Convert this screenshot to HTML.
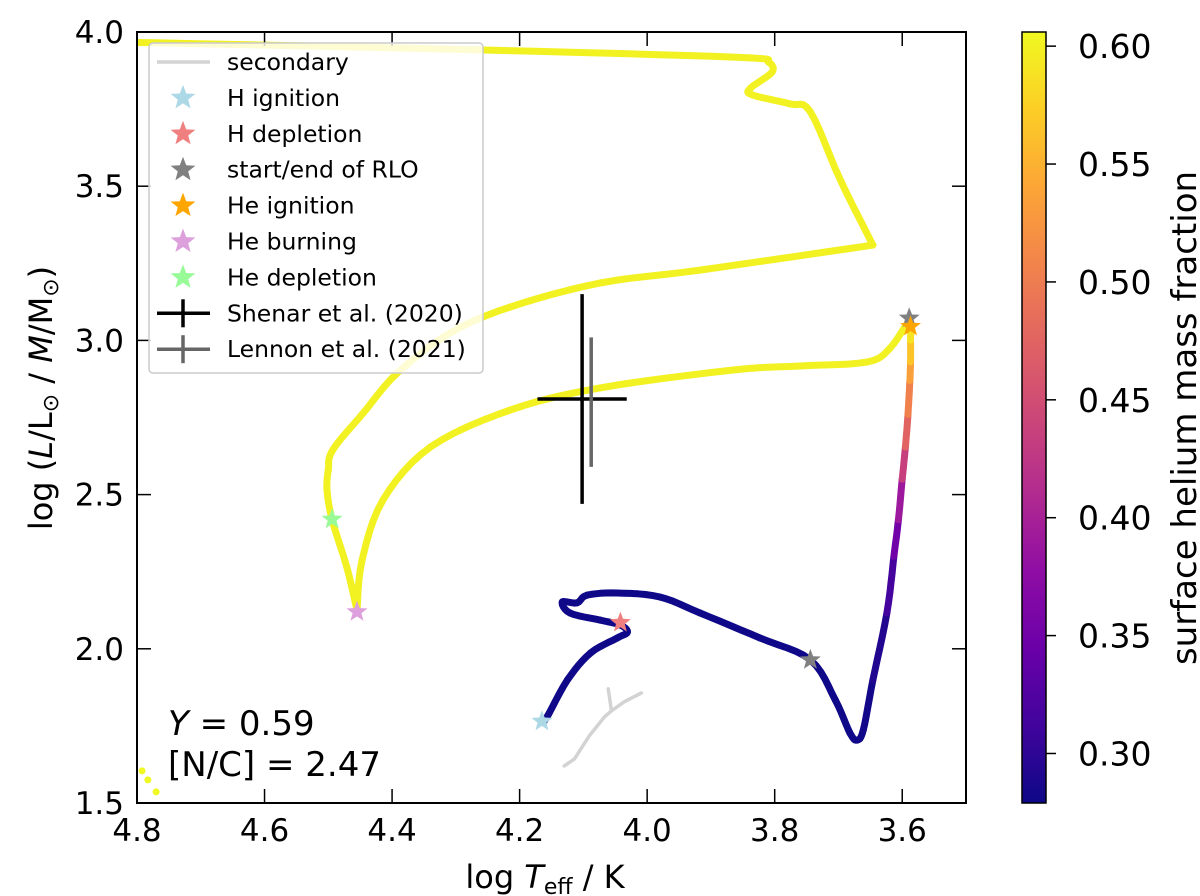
<!DOCTYPE html>
<html><head><meta charset="utf-8"><style>
body{margin:0;background:#fff;}
svg{display:block;font-family:"DejaVu Sans","Liberation Sans",sans-serif;}
</style></head><body>
<svg id="chart" width="1200" height="896" viewBox="0 0 1200 896">
<defs>
<linearGradient id="cbgrad" x1="0" y1="1" x2="0" y2="0">
<stop offset="0" stop-color="#0d0887"/><stop offset="0.1" stop-color="#41049d"/><stop offset="0.2" stop-color="#6a00a8"/><stop offset="0.3" stop-color="#8f0da4"/><stop offset="0.4" stop-color="#b12a90"/><stop offset="0.5" stop-color="#cc4778"/><stop offset="0.6" stop-color="#e16462"/><stop offset="0.7" stop-color="#f2844b"/><stop offset="0.8" stop-color="#fca636"/><stop offset="0.9" stop-color="#fcce25"/><stop offset="1" stop-color="#f0f921"/>
</linearGradient>
<clipPath id="plotclip"><rect x="137" y="32" width="829" height="771"/></clipPath>
</defs>
<g id="plot" clip-path="url(#plotclip)"></g>
<rect x="137" y="32" width="829" height="771" fill="none" stroke="#000" stroke-width="2"/>
<g id="axes"></g>
<g id="legend"></g>
<text x="168" y="735" font-size="34"><tspan font-style="italic">Y</tspan> = 0.59</text>
<text x="168" y="776" font-size="34">[N/C] = 2.47</text>
<text x="545" y="888" font-size="32" text-anchor="middle">log <tspan font-style="italic">T</tspan><tspan font-size="22" dy="6">eff</tspan><tspan dy="-6"> / K</tspan></text>
<text transform="translate(52,398) rotate(-90)" font-size="32" text-anchor="middle">log (<tspan font-style="italic">L</tspan>/L<tspan font-size="22" dy="6">⊙</tspan><tspan dy="-6"> / </tspan><tspan font-style="italic">M</tspan>/M<tspan font-size="22" dy="6">⊙</tspan><tspan dy="-6">)</tspan></text>
<rect x="1022" y="32" width="24" height="771" fill="url(#cbgrad)" stroke="#000" stroke-width="1.5"/>
<g id="cbticks"></g>
<text transform="translate(1196,418) rotate(-90)" font-size="34" text-anchor="middle">surface helium mass fraction</text>
</svg>
<script>
const trackT=[4.165,4.157,4.125,4.089,4.047,4.031,4.042,4.074,4.121,4.133,4.110,4.094,4.047,3.980,3.917,3.823,3.744,3.705,3.682,3.671,3.661,3.646,3.624,3.613,3.606,3.600,3.595,3.591,3.588,3.587,3.587,3.589,3.619,3.655,3.760,3.865,4.074,4.215,4.340,4.414,4.447,4.455,4.471,4.494,4.502,4.500,4.493,4.445,4.392,4.309,4.215,4.074,3.917,3.646,3.697,3.744,3.776,3.835,3.838,3.804,3.810,3.838,4.074,4.387,4.820];
const trackL=[1.763,1.779,1.899,1.986,2.035,2.054,2.077,2.093,2.116,2.152,2.149,2.174,2.181,2.168,2.116,2.035,1.964,1.834,1.727,1.704,1.737,1.899,2.116,2.300,2.418,2.550,2.654,2.760,2.870,2.930,3.001,3.060,2.975,2.930,2.917,2.904,2.846,2.774,2.654,2.483,2.288,2.126,2.265,2.418,2.515,2.580,2.645,2.765,2.894,3.024,3.108,3.186,3.228,3.309,3.520,3.741,3.767,3.796,3.818,3.870,3.903,3.916,3.932,3.948,3.967];
const trackY=[0.28,0.28,0.28,0.28,0.28,0.28,0.28,0.28,0.28,0.28,0.28,0.28,0.28,0.28,0.28,0.28,0.28,0.28,0.28,0.28,0.28,0.285,0.30,0.33,0.37,0.41,0.46,0.49,0.52,0.55,0.58,0.60,0.60,0.60,0.60,0.60,0.60,0.60,0.60,0.60,0.60,0.60,0.60,0.60,0.60,0.60,0.60,0.60,0.60,0.60,0.60,0.60,0.60,0.60,0.60,0.60,0.60,0.60,0.60,0.60,0.60,0.60,0.60,0.60,0.60];
const secT=[4.130,4.114,4.091,4.067,4.056,4.061];
const secL=[1.620,1.643,1.717,1.779,1.799,1.870];
const sec2T=[4.056,4.036,4.009];
const sec2L=[1.799,1.828,1.857];
const dotsT=[4.792,4.783,4.770];
const dotsL=[1.604,1.575,1.536];
const starNames=['h-ignition','h-depletion','rlo-start','rlo-end','he-ignition','he-burning','he-depletion'];
const starT=[4.165,4.042,3.744,3.589,3.587,4.455,4.494];
const starL=[1.765,2.085,1.964,3.072,3.045,2.120,2.420];
const starColors=['#add8e6','#f08080','#808080','#808080','#ffa500','#dda0dd','#98fb98'];
const obsNames=['shenar-2020','lennon-2021'];
const obsT=[4.102,4.094];
const obsL=[2.81,2.80];
const obsTerr=[0.07,0];
const obsLlo=[0.34,0.21];
const obsLhi=[0.34,0.21];
const obsColors=['#000','#666'];
const xTicks=[4.8,4.6,4.4,4.2,4.0,3.8,3.6];
const xTickLabels=['4.8','4.6','4.4','4.2','4.0','3.8','3.6'];
const yTicks=[1.5,2.0,2.5,3.0,3.5,4.0];
const yTickLabels=['1.5','2.0','2.5','3.0','3.5','4.0'];
const cbTicks=[0.30,0.35,0.40,0.45,0.50,0.55,0.60];
const cbTickLabels=['0.30','0.35','0.40','0.45','0.50','0.55','0.60'];
const legendLabels=['secondary','H ignition','H depletion','start/end of RLO','He ignition','He burning','He depletion','Shenar et al. (2020)','Lennon et al. (2021)'];

const NS='http://www.w3.org/2000/svg';
const X0=137,X1=966,Y0=32,Y1=803,TMAX=4.8,TMIN=3.5,LMIN=1.5,LMAX=4.0,CMIN=0.279,CMAX=0.606;
const xs=t=>X0+(TMAX-t)/(TMAX-TMIN)*(X1-X0);
const ys=l=>Y1-(l-LMIN)/(LMAX-LMIN)*(Y1-Y0);
const cs=v=>Y1-(v-CMIN)/(CMAX-CMIN)*(Y1-Y0);
const stops=[[13,8,135],[65,4,157],[106,0,168],[143,13,164],[177,42,144],[204,71,120],[225,100,98],[242,132,75],[252,166,54],[252,206,37],[240,249,33]];
function plasma(v){let f=Math.max(0,Math.min(1,(v-CMIN)/(CMAX-CMIN)))*10;let i=Math.min(9,Math.floor(f)),r=f-i;const a=stops[i],b=stops[i+1];return 'rgb('+a.map((c,k)=>Math.round(c+(b[k]-c)*r)).join(',')+')';}
function mk(tag,attrs,parent){const e=document.createElementNS(NS,tag);for(const k in attrs)e.setAttribute(k,attrs[k]);parent.appendChild(e);return e;}
function starPath(cx,cy,R){let p='';for(let i=0;i<10;i++){const r=i%2?R*0.42:R;const a=-Math.PI/2+i*Math.PI/5;p+=(i?'L':'M')+(cx+r*Math.cos(a)).toFixed(1)+','+(cy+r*Math.sin(a)).toFixed(1);}return p+'Z';}
const plot=document.getElementById('plot'),axes=document.getElementById('axes'),leg=document.getElementById('legend'),cbt=document.getElementById('cbticks');

[[secT,secL],[sec2T,sec2L]].forEach(([T,L])=>{
 const p=mk('polyline',{points:T.map((t,i)=>xs(t)+','+ys(L[i])).join(' '),fill:'none',stroke:'#d3d3d3','stroke-width':3.5,'stroke-linecap':'round','stroke-linejoin':'round'},plot);
 
 
});
const PX=trackT.map(xs),PY=trackL.map(ys),N=trackT.length;
// sharp corners: detect by turning angle
function isCorner(j){if(j<=0||j>=N-1)return false;const ax=PX[j]-PX[j-1],ay=PY[j]-PY[j-1],bx=PX[j+1]-PX[j],by=PY[j+1]-PY[j];const c=(ax*bx+ay*by)/(Math.hypot(ax,ay)*Math.hypot(bx,by)+1e-9);return c<-0.2&&Math.hypot(ax,ay)>40&&Math.hypot(bx,by)>40;}
function cr(a,b,c,d,t){return 0.5*((2*b)+(-a+c)*t+(2*a-5*b+4*c-d)*t*t+(-a+3*b-3*c+d)*t*t*t);}
for(let i=0;i<N-1;i++){
 let i0=Math.max(0,i-1),i3=Math.min(N-1,i+2);
 if(isCorner(i)) i0=i;
 if(isCorner(i+1)) i3=i+1;
 const pts=[];
 for(let k=0;k<=6;k++){const t=k/6;pts.push(cr(PX[i0],PX[i],PX[i+1],PX[i3],t).toFixed(1)+','+cr(PY[i0],PY[i],PY[i+1],PY[i3],t).toFixed(1));}
 const s=mk('polyline',{points:pts.join(' '),fill:'none',stroke:plasma((trackY[i]+trackY[i+1])/2),'stroke-width':7,'stroke-linecap':'round','stroke-linejoin':'round'},plot);
 
 
}
dotsT.forEach((t,i)=>{
 const d=mk('circle',{cx:xs(t),cy:ys(dotsL[i]),r:3.5,fill:'#f0f921'},plot);
 
 
});
obsT.forEach((t,i)=>{
 const g=mk('g',{stroke:obsColors[i],'stroke-width':3.5},plot);
 
 
 const ox=obsColors[i]==='#666'?4:0;
 mk('line',{x1:xs(t)+ox,x2:xs(t)+ox,y1:ys(obsL[i]-obsLlo[i]),y2:ys(obsL[i]+obsLhi[i])},g);
 if(obsTerr[i]>0) mk('line',{x1:xs(t+obsTerr[i]),x2:xs(t-obsTerr[i]),y1:ys(obsL[i]),y2:ys(obsL[i])},g);
});
starT.forEach((t,i)=>{
 const s=mk('path',{d:starPath(xs(t),ys(starL[i]),11),fill:starColors[i]},plot);
 
 
});
xTicks.forEach((v,i)=>{
 const x=xs(v);
 mk('line',{x1:x,x2:x,y1:Y1,y2:Y1-14,stroke:'#000','stroke-width':1.5},axes);
 mk('line',{x1:x,x2:x,y1:Y0,y2:Y0+14,stroke:'#000','stroke-width':1.5},axes);
 const tx=mk('text',{x:x,y:Y1+38,'font-size':31,'text-anchor':'middle'},axes);
 tx.textContent=xTickLabels[i];
 
 
});
yTicks.forEach((v,i)=>{
 const y=ys(v);
 mk('line',{x1:X0,x2:X0+14,y1:y,y2:y,stroke:'#000','stroke-width':1.5},axes);
 mk('line',{x1:X1,x2:X1-14,y1:y,y2:y,stroke:'#000','stroke-width':1.5},axes);
 const tx=mk('text',{x:124,y:y+11,'font-size':31,'text-anchor':'end'},axes);
 tx.textContent=yTickLabels[i];
 
 
});
cbTicks.forEach((v,i)=>{
 const y=cs(v);
 mk('line',{x1:1046,x2:1056,y1:y,y2:y,stroke:'#000','stroke-width':1.5},cbt);
 const tx=mk('text',{x:1078,y:y+12,'font-size':33},cbt);
 tx.textContent=cbTickLabels[i];
 
 
});
mk('rect',{x:149,y:43,width:334,height:330,rx:4,fill:'rgba(255,255,255,0.8)',stroke:'#ccc','stroke-width':1.5},leg);
legendLabels.forEach((lab,i)=>{
 const y=62+i*35.9;
 const g=mk('g',{},leg);
 
 
 if(i===0) mk('line',{x1:157,x2:210,y1:y,y2:y,stroke:'#d3d3d3','stroke-width':3.5},g);
 else if(i<=6) mk('path',{d:starPath(183,y,13),fill:starColors[[0,0,1,2,4,5,6][i]]},g);
 else {const c=i===7?'#000':'#666';mk('line',{x1:157,x2:210,y1:y,y2:y,stroke:c,'stroke-width':3.5},g);mk('line',{x1:183,x2:183,y1:y-14,y2:y+14,stroke:c,'stroke-width':3.5},g);}
 const t=mk('text',{x:227,y:y+8,'font-size':23.5},g);
 t.textContent=lab;
});
</script>
</body></html>
